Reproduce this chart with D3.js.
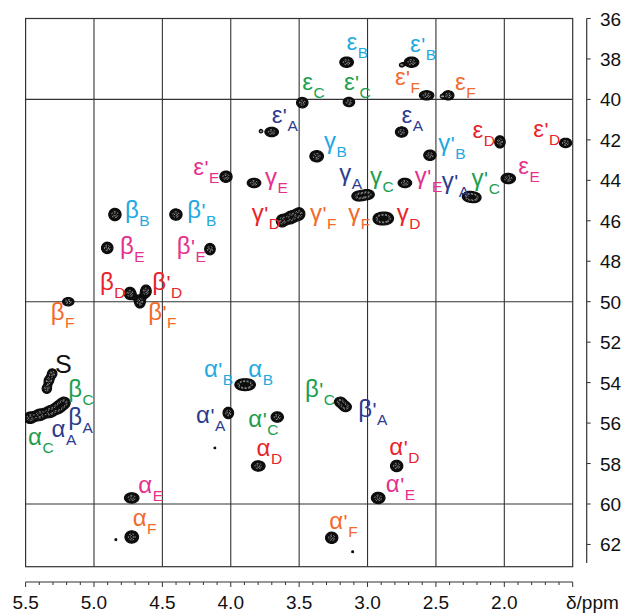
<!DOCTYPE html>
<html>
<head>
<meta charset="utf-8">
<script src="https://cdn.jsdelivr.net/npm/d3@7"></script>
<style>
  body { margin: 0; background: #fff; }
  svg { display: block; }
</style>
</head>
<body>
<svg id="chart" width="626" height="613"></svg>
<script>
// 1H axis (bottom) and 13C axis (right)
const xTicks = [5.5, 5.0, 4.5, 4.0, 3.5, 3.0, 2.5, 2.0];
const xTickLabels = ["5.5", "5.0", "4.5", "4.0", "3.5", "3.0", "2.5", "2.0"];
const xUnitLabel = "δ/ppm";
const yTicks = [36, 38, 40, 42, 44, 46, 48, 50, 52, 54, 56, 58, 60, 62];
const xGridLines = [5.0, 4.5, 4.0, 3.5, 3.0, 2.5, 2.0];
const yGridLines = [40, 50, 60];

// Cross peaks: [1H ppm, 13C ppm, 1H width sigma (ppm), 13C width sigma (ppm)]
const peaks = [
  [3.153, 38.16, 0.031, 0.16],   // εB
  [2.678, 38.16, 0.033, 0.16],   // ε'B
  [2.750, 38.30, 0.010, 0.06],
  [3.136, 40.13, 0.026, 0.144],  // ε'C
  [3.477, 40.16, 0.026, 0.16],   // εC
  [3.701, 41.61, 0.031, 0.144],  // ε'A
  [3.780, 41.57, 0.007, 0.05],
  [3.372, 42.81, 0.031, 0.175],  // γB
  [2.751, 41.61, 0.028, 0.16],   // εA
  [2.568, 39.80, 0.033, 0.144],  // ε'F
  [2.410, 39.80, 0.026, 0.144],  // εF
  [2.455, 39.85, 0.007, 0.05],
  [2.032, 42.10, 0.024, 0.19],   // εD
  [1.552, 42.15, 0.028, 0.144],  // ε'D
  [2.544, 42.76, 0.028, 0.16],   // γ'B
  [1.971, 43.91, 0.033, 0.16],   // εE
  [2.727, 44.13, 0.031, 0.144],  // γC / γ'E
  [2.262, 44.80, 0.028, 0.15],   // γ'A
  [2.215, 44.85, 0.028, 0.15],   // γ'C
  [3.065, 44.78, 0.031, 0.15],   // γA
  [3.000, 44.70, 0.031, 0.15],
  [4.035, 43.82, 0.028, 0.175],  // ε'E
  [3.830, 44.13, 0.031, 0.144],  // γE
  [3.625, 46.00, 0.026, 0.19],   // γ'D
  [3.560, 45.83, 0.026, 0.19],
  [3.500, 45.66, 0.026, 0.19],   // γ'F
  [2.910, 45.90, 0.031, 0.175],  // γF
  [2.860, 45.88, 0.031, 0.175],  // γD
  [4.847, 45.69, 0.028, 0.19],   // βB
  [4.401, 45.69, 0.028, 0.175],  // β'B
  [4.903, 47.34, 0.026, 0.175],  // βE
  [4.152, 47.40, 0.024, 0.175],  // β'E
  [4.737, 49.59, 0.026, 0.19],   // βD
  [4.620, 49.48, 0.024, 0.19],   // β'D
  [4.664, 50.01, 0.024, 0.19],   // β'F
  [5.188, 50.00, 0.026, 0.128],  // βF
  [5.305, 53.55, 0.021, 0.144],  // S
  [5.330, 53.90, 0.021, 0.144],
  [5.345, 54.30, 0.021, 0.144],
  [5.468, 55.74, 0.028, 0.175],  // αC
  [5.395, 55.59, 0.028, 0.175],  // αA
  [5.322, 55.44, 0.028, 0.175],  // βA
  [5.263, 55.24, 0.028, 0.175],
  [5.219, 55.00, 0.028, 0.175],  // βC
  [4.724, 59.70, 0.033, 0.16],   // αE
  [4.724, 61.63, 0.031, 0.19],   // αF
  [3.920, 54.10, 0.031, 0.16],   // α'B
  [3.870, 54.10, 0.031, 0.16],   // αB
  [4.018, 55.50, 0.024, 0.175],  // α'A
  [3.660, 55.70, 0.028, 0.16],   // α'C
  [3.799, 58.12, 0.031, 0.16],   // αD
  [3.200, 54.95, 0.026, 0.144],  // β'C
  [3.160, 55.20, 0.026, 0.144],  // β'A
  [2.787, 58.12, 0.028, 0.175],  // α'D
  [2.922, 59.70, 0.031, 0.175],  // α'E
  [3.262, 61.67, 0.028, 0.175]   // α'F
];

// Isolated noise specks: [1H ppm, 13C ppm]
const specks = [
  [4.840, 61.76], [4.116, 57.23], [3.109, 62.36]
];

// Assignments: [greek, primed, residue, 1H ppm, 13C ppm] (text origin)
const labels = [
  ["ε", false, "B", 3.153, 37.58],
  ["ε", true,  "B", 2.690, 37.67],
  ["ε", true,  "C", 3.173, 39.52],
  ["ε", false, "C", 3.477, 39.52],
  ["ε", true,  "F", 2.800, 39.30],
  ["ε", false, "F", 2.361, 39.52],
  ["ε", true,  "A", 3.701, 41.17],
  ["ε", false, "A", 2.751, 41.17],
  ["ε", false, "D", 2.232, 41.91],
  ["ε", true,  "D", 1.789, 41.86],
  ["γ", false, "B", 3.319, 42.45],
  ["γ", true,  "B", 2.483, 42.53],
  ["ε", true,  "E", 4.274, 43.75],
  ["ε", false, "E", 1.898, 43.67],
  ["γ", false, "E", 3.750, 44.23],
  ["γ", false, "A", 3.207, 44.01],
  ["γ", false, "C", 2.982, 44.18],
  ["γ", true,  "E", 2.654, 44.19],
  ["γ", true,  "A", 2.458, 44.45],
  ["γ", true,  "C", 2.239, 44.26],
  ["γ", true,  "D", 3.847, 46.03],
  ["γ", true,  "F", 3.421, 46.03],
  ["γ", false, "F", 3.141, 46.03],
  ["γ", false, "D", 2.787, 46.03],
  ["β", false, "B", 4.773, 45.87],
  ["β", true,  "B", 4.318, 45.87],
  ["β", false, "E", 4.810, 47.63],
  ["β", true,  "E", 4.395, 47.63],
  ["β", false, "D", 4.956, 49.44],
  ["β", true,  "D", 4.574, 49.44],
  ["β", false, "F", 5.317, 50.92],
  ["β", true,  "F", 4.603, 50.92],
  ["S", false, "",  5.285, 53.50],
  ["β", false, "C", 5.188, 54.70],
  ["β", false, "A", 5.188, 56.10],
  ["α", false, "C", 5.482, 57.07],
  ["α", false, "A", 5.310, 56.68],
  ["α", true,  "B", 4.196, 53.70],
  ["α", false, "B", 3.872, 53.70],
  ["α", true,  "A", 4.254, 56.00],
  ["α", true,  "C", 3.872, 56.17],
  ["α", false, "D", 3.811, 57.65],
  ["β", true,  "C", 3.458, 54.70],
  ["β", true,  "A", 3.068, 55.69],
  ["α", true,  "D", 2.841, 57.56],
  ["α", true,  "E", 2.866, 59.42],
  ["α", false, "E", 4.676, 59.45],
  ["α", false, "F", 4.717, 61.10],
  ["α", true,  "F", 3.280, 61.26]
];

const residueColors = {
  A: "#2c3b8e", B: "#22a9e1", C: "#1c9e4f",
  D: "#e8232b", E: "#e5318d", F: "#f26a2c", "": "#111"
};

const svg = d3.select("#chart");
const x = d3.scaleLinear().domain([5.5, 1.5]).range([25.6, 572.7]);
const y = d3.scaleLinear().domain([36, 63.1]).range([18.5, 566.7]);
const font = "'Liberation Sans', Arial, Helvetica, sans-serif";

// Grid and frame
const grid = svg.append("g").attr("stroke", "#333").attr("stroke-width", 1.1);
grid.selectAll("line.v").data(xGridLines).join("line")
  .attr("x1", d => x(d)).attr("x2", d => x(d))
  .attr("y1", y.range()[0]).attr("y2", y.range()[1]);
grid.selectAll("line.h").data(yGridLines).join("line")
  .attr("x1", x.range()[0]).attr("x2", x.range()[1])
  .attr("y1", d => y(d)).attr("y2", d => y(d));
svg.append("rect")
  .attr("x", x.range()[0]).attr("y", y.range()[0])
  .attr("width", x.range()[1] - x.range()[0])
  .attr("height", y.range()[1] - y.range()[0])
  .attr("fill", "none").attr("stroke", "#333").attr("stroke-width", 1.2);

// Peak contours from a sum of 2D Gaussians
const gx0 = x.range()[0], gy0 = y.range()[0];
const gw = Math.ceil(x.range()[1] - gx0), gh = Math.ceil(y.range()[1] - gy0);
const field = new Float64Array(gw * gh);
const pxPerH = Math.abs(x(1) - x(0)), pxPerC = Math.abs(y(1) - y(0));
function addGaussian(cx, cy, sx, sy, amp) {
  const i0 = Math.max(0, Math.floor(cx - 4 * sx)), i1 = Math.min(gw - 1, Math.ceil(cx + 4 * sx));
  const j0 = Math.max(0, Math.floor(cy - 4 * sy)), j1 = Math.min(gh - 1, Math.ceil(cy + 4 * sy));
  for (let j = j0; j <= j1; j++) {
    const dy = (j + 0.5 - cy) / sy;
    for (let i = i0; i <= i1; i++) {
      const dx = (i + 0.5 - cx) / sx;
      field[j * gw + i] += amp * Math.exp(-0.5 * (dx * dx + dy * dy));
    }
  }
}
peaks.forEach(p => addGaussian(x(p[0]) - gx0, y(p[1]) - gy0, p[2] * pxPerH, p[3] * pxPerC, 1));
specks.forEach(p => addGaussian(x(p[0]) - gx0, y(p[1]) - gy0, 0.9, 0.9, 0.5));

const levels = [0.28, 0.72, 0.92];
const contours = d3.contours().size([gw, gh]).thresholds(levels)(Array.from(field));
const path = d3.geoPath();
const cg = svg.append("g").attr("transform", `translate(${gx0},${gy0})`);
cg.append("path").attr("d", path(contours[0]))
  .attr("fill", "#0d0d0d").attr("stroke", "#0d0d0d").attr("stroke-width", 1.2);
cg.selectAll("path.inner").data(contours.slice(1)).join("path")
  .attr("class", "inner")
  .attr("d", d => path(d))
  .attr("fill", "none").attr("stroke", "#fff").attr("stroke-width", 0.5)
  .attr("stroke-dasharray", "2 1.5");

// Assignment labels
const lab = svg.append("g").attr("font-family", font);
labels.forEach(([g, primed, res, lx, ly]) => {
  const t = lab.append("text")
    .attr("x", x(lx)).attr("y", y(ly))
    .attr("fill", residueColors[res]);
  t.append("tspan").attr("font-size", g === "S" ? 25 : 24).text(g);
  if (primed) t.append("tspan").attr("font-size", 21).attr("dx", 0.5).text("'");
  if (res) t.append("tspan").attr("font-size", 15.5).attr("dy", 8).attr("dx", 0.5).text(res);
});

// Bottom 1H axis
const axisY = 582;
const bx = svg.append("g").attr("stroke", "#333");
bx.append("line").attr("x1", x(5.5)).attr("x2", x(1.5)).attr("y1", axisY).attr("y2", axisY).attr("stroke-width", 1.2);
bx.selectAll("line.minor").data(d3.range(55, 14, -1).map(v => v / 10)).join("line")
  .attr("x1", d => x(d)).attr("x2", d => x(d))
  .attr("y1", axisY).attr("y2", d => axisY + (Math.abs(d * 2 - Math.round(d * 2)) < 1e-6 ? 5 : 3))
  .attr("stroke-width", 1);
svg.append("g").attr("font-family", font).attr("font-size", 19).attr("fill", "#111")
  .selectAll("text").data(xTicks).join("text")
  .attr("x", d => x(d)).attr("y", 609).attr("text-anchor", "middle")
  .text((d, i) => xTickLabels[i]);
svg.append("text").attr("font-family", font).attr("font-size", 19).attr("fill", "#111")
  .attr("x", 566).attr("y", 609).text(xUnitLabel);

// Right 13C axis
const axisX = 586.7;
const ry = svg.append("g").attr("stroke", "#333");
ry.append("line").attr("x1", axisX).attr("x2", axisX).attr("y1", y(36)).attr("y2", 563).attr("stroke-width", 1.2);
ry.selectAll("line.t").data(yTicks).join("line")
  .attr("x1", axisX).attr("x2", axisX + 4)
  .attr("y1", d => y(d)).attr("y2", d => y(d)).attr("stroke-width", 1);
svg.append("g").attr("font-family", font).attr("font-size", 19).attr("fill", "#111")
  .selectAll("text").data(yTicks).join("text")
  .attr("x", 600).attr("y", d => y(d) + 7).text(d => d);
</script>
</body>
</html>
